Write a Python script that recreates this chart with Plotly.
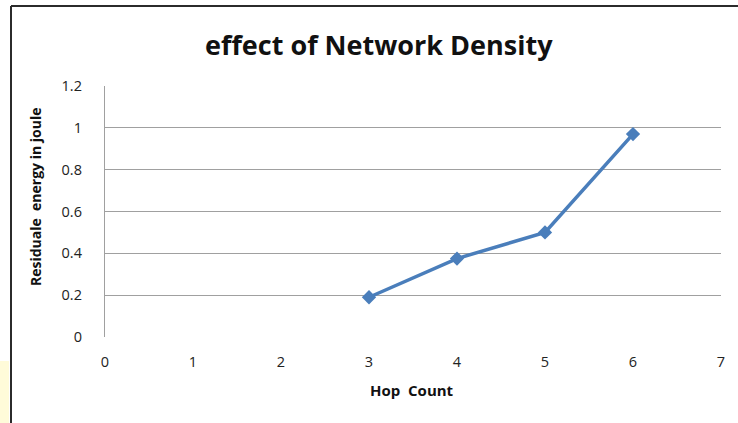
import plotly.graph_objects as go

# Hop count vs residual energy
hop_count = [3, 4, 5, 6]
residual_energy = [0.19, 0.375, 0.5, 0.97]

x_ticks = [0, 1, 2, 3, 4, 5, 6, 7]
y_ticks = [0, 0.2, 0.4, 0.6, 0.8, 1.0, 1.2]
y_tick_labels = ["0", "0.2", "0.4", "0.6", "0.8", "1", "1.2"]

W, H = 738, 423
ML, MR, MT, MB = 105, 17, 86, 86
PW, PH = W - ML - MR, H - MT - MB


def px(x):
    return (x - ML) / PW


def py(y):
    return (H - MB - y) / PH


fig = go.Figure()
fig.add_trace(go.Scatter(
    x=hop_count,
    y=residual_energy,
    mode="lines+markers",
    line=dict(color="#4a7ebb", width=3.5),
    marker=dict(symbol="diamond", size=11, color="#4a7ebb"),
    showlegend=False,
    cliponaxis=False,
))

font_main = "Open Sans, Liberation Sans, sans-serif"

fig.update_layout(
    width=W,
    height=H,
    margin=dict(l=ML, r=MR, t=MT, b=MB, pad=0),
    paper_bgcolor="white",
    plot_bgcolor="white",
    font=dict(family=font_main, size=14, color="#222"),
    xaxis=dict(
        range=[0, 7],
        tickvals=x_ticks,
        showgrid=False,
        zeroline=False,
        showline=False,
        ticks="",
        ticklabelstandoff=14,
        tickfont=dict(size=14.5, color="#222"),
        fixedrange=True,
    ),
    yaxis=dict(
        range=[0, 1.2],
        tickvals=y_ticks,
        ticktext=y_tick_labels,
        showgrid=True,
        gridcolor="#a0a0a0",
        gridwidth=1.3,
        zeroline=False,
        showline=True,
        linecolor="#a0a0a0",
        linewidth=1.3,
        ticks="",
        ticklabelstandoff=19,
        tickfont=dict(size=14.5, color="#222"),
        fixedrange=True,
    ),
    annotations=[
        dict(text="<b>effect of Network Density</b>", xref="paper", yref="paper",
             x=px(379), y=py(45), xanchor="center", yanchor="middle",
             showarrow=False, font=dict(size=27, color="#111", family=font_main)),
        dict(text="<b>Hop  Count</b>", xref="paper", yref="paper",
             x=px(412), y=py(390), xanchor="center", yanchor="middle",
             showarrow=False, font=dict(size=15, color="#111", family=font_main)),
        dict(text="<b>Residuale  energy in joule</b>", xref="paper", yref="paper",
             x=px(35), y=py(197), xanchor="center", yanchor="middle", textangle=-90,
             showarrow=False, font=dict(size=14, color="#111", family=font_main)),
    ],
    shapes=[
        # pale strip at the lower left edge
        dict(type="rect", xref="paper", yref="paper", layer="below",
             x0=px(0), x1=px(9), y0=py(361), y1=py(423),
             fillcolor="#fffbd9", line=dict(width=0)),
        # outer frame: left and top edges
        dict(type="line", xref="paper", yref="paper",
             x0=px(11), x1=px(11), y0=py(6), y1=py(423),
             line=dict(color="#2b2b2b", width=2)),
        dict(type="line", xref="paper", yref="paper",
             x0=px(11), x1=px(738), y0=py(6), y1=py(6),
             line=dict(color="#2b2b2b", width=2)),
    ],
)

fig.write_html("out.html")
